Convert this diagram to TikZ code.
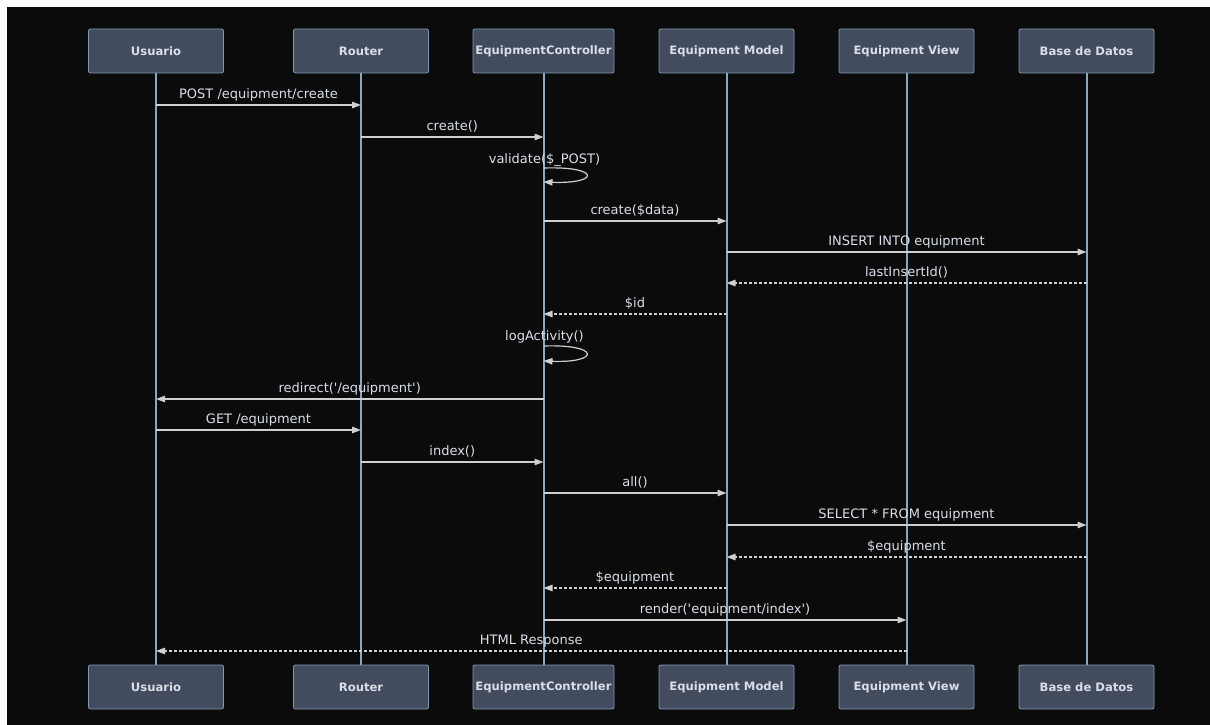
\documentclass[tikz,border=0pt]{standalone}
\usepackage{fontspec}
\setmainfont{DejaVu Sans}
\usetikzlibrary{arrows.meta,calc}
\definecolor{bgc}{HTML}{0B0B0B}
\definecolor{boxfill}{HTML}{434C5E}
\definecolor{boxdraw}{HTML}{7F9BB3}
\definecolor{lifec}{HTML}{8AA8BF}
\definecolor{msgc}{HTML}{CFCFCF}
\definecolor{txtc}{HTML}{D8DEE9}
\tikzset{
  actor/.style={draw=boxdraw, fill=boxfill, line width=0.8pt, rounded corners=2pt,
    minimum width=135pt, minimum height=44pt, inner sep=0pt,
    text=txtc, font=\fontsize{11.6}{13}\selectfont\bfseries},
  lifeline/.style={draw=lifec, line width=2pt},
  msg/.style={draw=msgc, line width=1.2pt, -{Triangle[length=9pt,width=6.5pt]}},
  reply/.style={msg, dash pattern=on 3pt off 2pt},
  mlabel/.style={text=txtc, font=\fontsize{13}{15}\selectfont, inner sep=0pt, anchor=base}
}
\newcommand{\sqmsg}[5]{\draw[#1] (#2) -- (#3) node[mlabel, midway, yshift=7pt] (#5) {#4};}
\begin{document}
\begin{tikzpicture}[x=1pt,y=-1pt]
\fill[white] (0,0) rectangle (1210,725);
\fill[bgc] (7,7) rectangle (1210,725);
\useasboundingbox (0,0) rectangle (1210,725);
% top actors
\node[actor] (u1) at (156,51) {Usuario};
\node[actor] (r1) at (361,51) {Router};
\node[actor, minimum width=141pt] (c1) at (543.5,51) {EquipmentController};
\node[actor] (m1) at (726.5,51) {Equipment Model};
\node[actor] (v1) at (906.5,51) {Equipment View};
\node[actor] (d1) at (1086.5,51) {Base de Datos};
% bottom actors
\node[actor] (u2) at (156,687) {Usuario};
\node[actor] (r2) at (361,687) {Router};
\node[actor, minimum width=141pt] (c2) at (543.5,687) {EquipmentController};
\node[actor] (m2) at (726.5,687) {Equipment Model};
\node[actor] (v2) at (906.5,687) {Equipment View};
\node[actor] (d2) at (1086.5,687) {Base de Datos};
% lifelines
\draw[lifeline] (u1) -- (u2);
\draw[lifeline] (r1) -- (r2);
\draw[lifeline] (c1) -- (c2);
\draw[lifeline] (m1) -- (m2);
\draw[lifeline] (v1) -- (v2);
\draw[lifeline] (d1) -- (d2);
% message end points on lifelines
\foreach \n/\y in {1/105,2/137,3/168,3b/182,4/221,5/252,6/283,7/314,8/346,8b/361,9/399,10/430,11/462,12/493,13/525,14/557,15/588,16/620,17/651}{
  \coordinate (u\n) at (u1.center |- 0,\y);
  \coordinate (r\n) at (r1.center |- 0,\y);
  \coordinate (c\n) at (c1.center |- 0,\y);
  \coordinate (m\n) at (m1.center |- 0,\y);
  \coordinate (v\n) at (v1.center |- 0,\y);
  \coordinate (d\n) at (d1.center |- 0,\y);
}
% messages
\sqmsg{msg}{u1}{r1}{POST /equipment/create}{l1}
\sqmsg{msg}{r2}{c2}{create()}{l2}
\node[mlabel] (l3) at ($(c3)+(1,-5)$) {validate(\$\_POST)};
\draw[msg] (c3) .. controls ($(c3)+(57,-2)$) and ($(c3b)+(57,2)$) .. (c3b);
\sqmsg{msg}{c4}{m4}{create(\$data)}{l4}
\sqmsg{msg}{m5}{d5}{INSERT INTO equipment}{l5}
\sqmsg{reply}{d6}{m6}{lastInsertId()}{l6}
\sqmsg{reply}{m7}{c7}{\$id}{l7}
\node[mlabel] (l8) at ($(c8)+(1,-6)$) {logActivity()};
\draw[msg] (c8) .. controls ($(c8)+(57,-2)$) and ($(c8b)+(57,2)$) .. (c8b);
\sqmsg{msg}{c9}{u9}{redirect(\textquotesingle/equipment\textquotesingle)}{l9}
\sqmsg{msg}{u10}{r10}{GET /equipment}{l10}
\sqmsg{msg}{r11}{c11}{index()}{l11}
\sqmsg{msg}{c12}{m12}{all()}{l12}
\sqmsg{msg}{m13}{d13}{SELECT * FROM equipment}{l13}
\sqmsg{reply}{d14}{m14}{\$equipment}{l14}
\sqmsg{reply}{m15}{c15}{\$equipment}{l15}
\sqmsg{msg}{c16}{v16}{render(\textquotesingle equipment/index\textquotesingle)}{l16}
\sqmsg{reply}{v17}{u17}{HTML Response}{l17}
\end{tikzpicture}
\end{document}
